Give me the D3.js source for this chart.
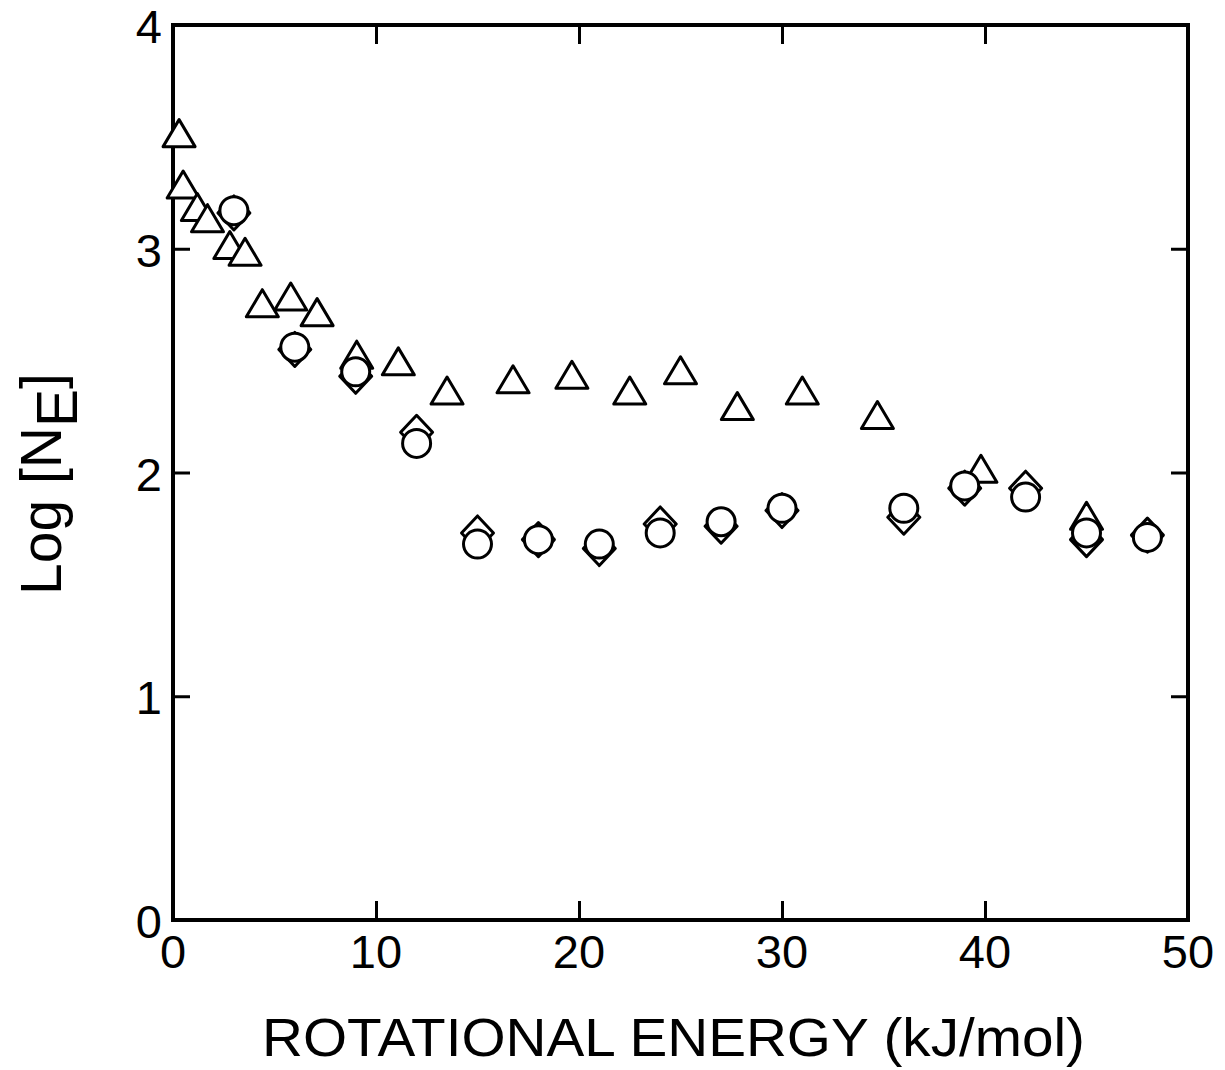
<!DOCTYPE html>
<html>
<head>
<meta charset="utf-8">
<script src="https://cdn.jsdelivr.net/npm/d3@7"></script>
<style>
  html, body { margin: 0; padding: 0; background: #fff; }
  svg { display: block; }
  text { font-family: "Liberation Sans", Arial, Helvetica, sans-serif; fill: #000; }
</style>
</head>
<body>
<div id="chart"></div>
<script>
// ---- Data ----
const xTicks = [0, 10, 20, 30, 40, 50];
const yTicks = [0, 1, 2, 3, 4];
const xLabel = "ROTATIONAL ENERGY (kJ/mol)";

// Triangles
const triX = [0.3, 0.5, 1.2, 1.7, 2.8, 3.55, 4.4, 5.8, 7.1, 9.05, 11.1, 13.5, 16.75, 19.65, 22.5, 25.0, 27.8, 31.0, 34.7, 39.8, 45.0];
const triY = [3.51, 3.28, 3.18, 3.13, 3.01, 2.98, 2.75, 2.78, 2.71, 2.52, 2.49, 2.36, 2.41, 2.43, 2.36, 2.45, 2.29, 2.36, 2.25, 2.01, 1.80];

// Diamonds
const diaX = [3.0, 6.0, 9.0, 12.0, 15.0, 18.0, 21.0, 24.0, 27.0, 30.0, 36.0, 39.0, 42.0, 45.0, 48.0];
const diaY = [3.16, 2.55, 2.43, 2.18, 1.73, 1.70, 1.66, 1.77, 1.76, 1.83, 1.80, 1.93, 1.93, 1.70, 1.72];

// Circles
const cirX = [3.0, 6.0, 9.0, 12.0, 15.0, 18.0, 21.0, 24.0, 27.0, 30.0, 36.0, 39.0, 42.0, 45.0, 48.0];
const cirY = [3.17, 2.56, 2.45, 2.13, 1.68, 1.70, 1.68, 1.73, 1.78, 1.84, 1.84, 1.94, 1.89, 1.73, 1.71];

(function () {
// ---- Layout ----
const W = 1225, H = 1070;
const mLeft = 173, mRight = 1188, mTop = 25, mBottom = 920;

const svg = d3.select("#chart").append("svg").attr("width", W).attr("height", H);

const x = d3.scaleLinear().domain([0, 50]).range([mLeft, mRight]);
const y = d3.scaleLinear().domain([0, 4]).range([mBottom, mTop]);

const tickLen = 19;
const g = svg.append("g");

const inner = [10, 20, 30, 40];
const innerY = [1, 2, 3];
function styleAxis(sel) {
  sel.select(".domain").remove();
  sel.selectAll("line").attr("stroke", "#000").attr("stroke-width", 3);
  sel.selectAll("text").remove();
}
g.append("g").attr("transform", `translate(0,${mBottom})`)
  .call(d3.axisTop(x).tickValues(inner).tickSize(tickLen)).call(styleAxis);
g.append("g").attr("transform", `translate(0,${mTop})`)
  .call(d3.axisBottom(x).tickValues(inner).tickSize(tickLen)).call(styleAxis);
g.append("g").attr("transform", `translate(${mLeft},0)`)
  .call(d3.axisRight(y).tickValues(innerY).tickSize(tickLen - 2)).call(styleAxis);
g.append("g").attr("transform", `translate(${mRight},0)`)
  .call(d3.axisLeft(y).tickValues(innerY).tickSize(tickLen - 2)).call(styleAxis);

// Frame
g.append("rect")
  .attr("x", x(0)).attr("y", y(4))
  .attr("width", x(50) - x(0)).attr("height", y(0) - y(4))
  .attr("fill", "none").attr("stroke", "#000").attr("stroke-width", 4);

// Tick labels
g.selectAll(".xt").data(xTicks).enter().append("text")
  .attr("x", d => x(d)).attr("y", 968)
  .attr("text-anchor", "middle").attr("font-size", 47).text(d => d);
g.selectAll(".yt").data(yTicks).enter().append("text")
  .attr("x", 162).attr("y", d => y(d) + 18)
  .attr("text-anchor", "end").attr("font-size", 47).text(d => d);

// Axis titles
svg.append("text")
  .attr("x", 262).attr("y", 1056)
  .attr("font-size", 54)
  .attr("textLength", 823).attr("lengthAdjust", "spacingAndGlyphs")
  .text(xLabel);

const yl = svg.append("text")
  .attr("transform", "translate(61,484) rotate(-90)")
  .attr("text-anchor", "middle")
  .attr("font-size", 57);
yl.append("tspan").text("Log [N");
yl.append("tspan").attr("dy", 16).text("E");
yl.append("tspan").attr("dy", -16).text("]");

// Markers
const sw = 3;
const triPath = "M0,-15 L16,12 L-16,12 Z";
const diaPath = "M0,-17 L16,0 L0,17 L-16,0 Z";

g.selectAll(".tri").data(triX.map((v, i) => [v, triY[i]])).enter().append("path")
  .attr("d", triPath)
  .attr("transform", d => `translate(${x(d[0])},${y(d[1])})`)
  .attr("fill", "#fff").attr("stroke", "#000").attr("stroke-width", sw)
  .attr("stroke-linejoin", "round");

g.selectAll(".dia").data(diaX.map((v, i) => [v, diaY[i]])).enter().append("path")
  .attr("d", diaPath)
  .attr("transform", d => `translate(${x(d[0])},${y(d[1])})`)
  .attr("fill", "#fff").attr("stroke", "#000").attr("stroke-width", sw)
  .attr("stroke-linejoin", "round");

g.selectAll(".cir").data(cirX.map((v, i) => [v, cirY[i]])).enter().append("circle")
  .attr("cx", d => x(d[0])).attr("cy", d => y(d[1])).attr("r", 14)
  .attr("fill", "#fff").attr("stroke", "#000").attr("stroke-width", sw);
})();
</script>
</body>
</html>
